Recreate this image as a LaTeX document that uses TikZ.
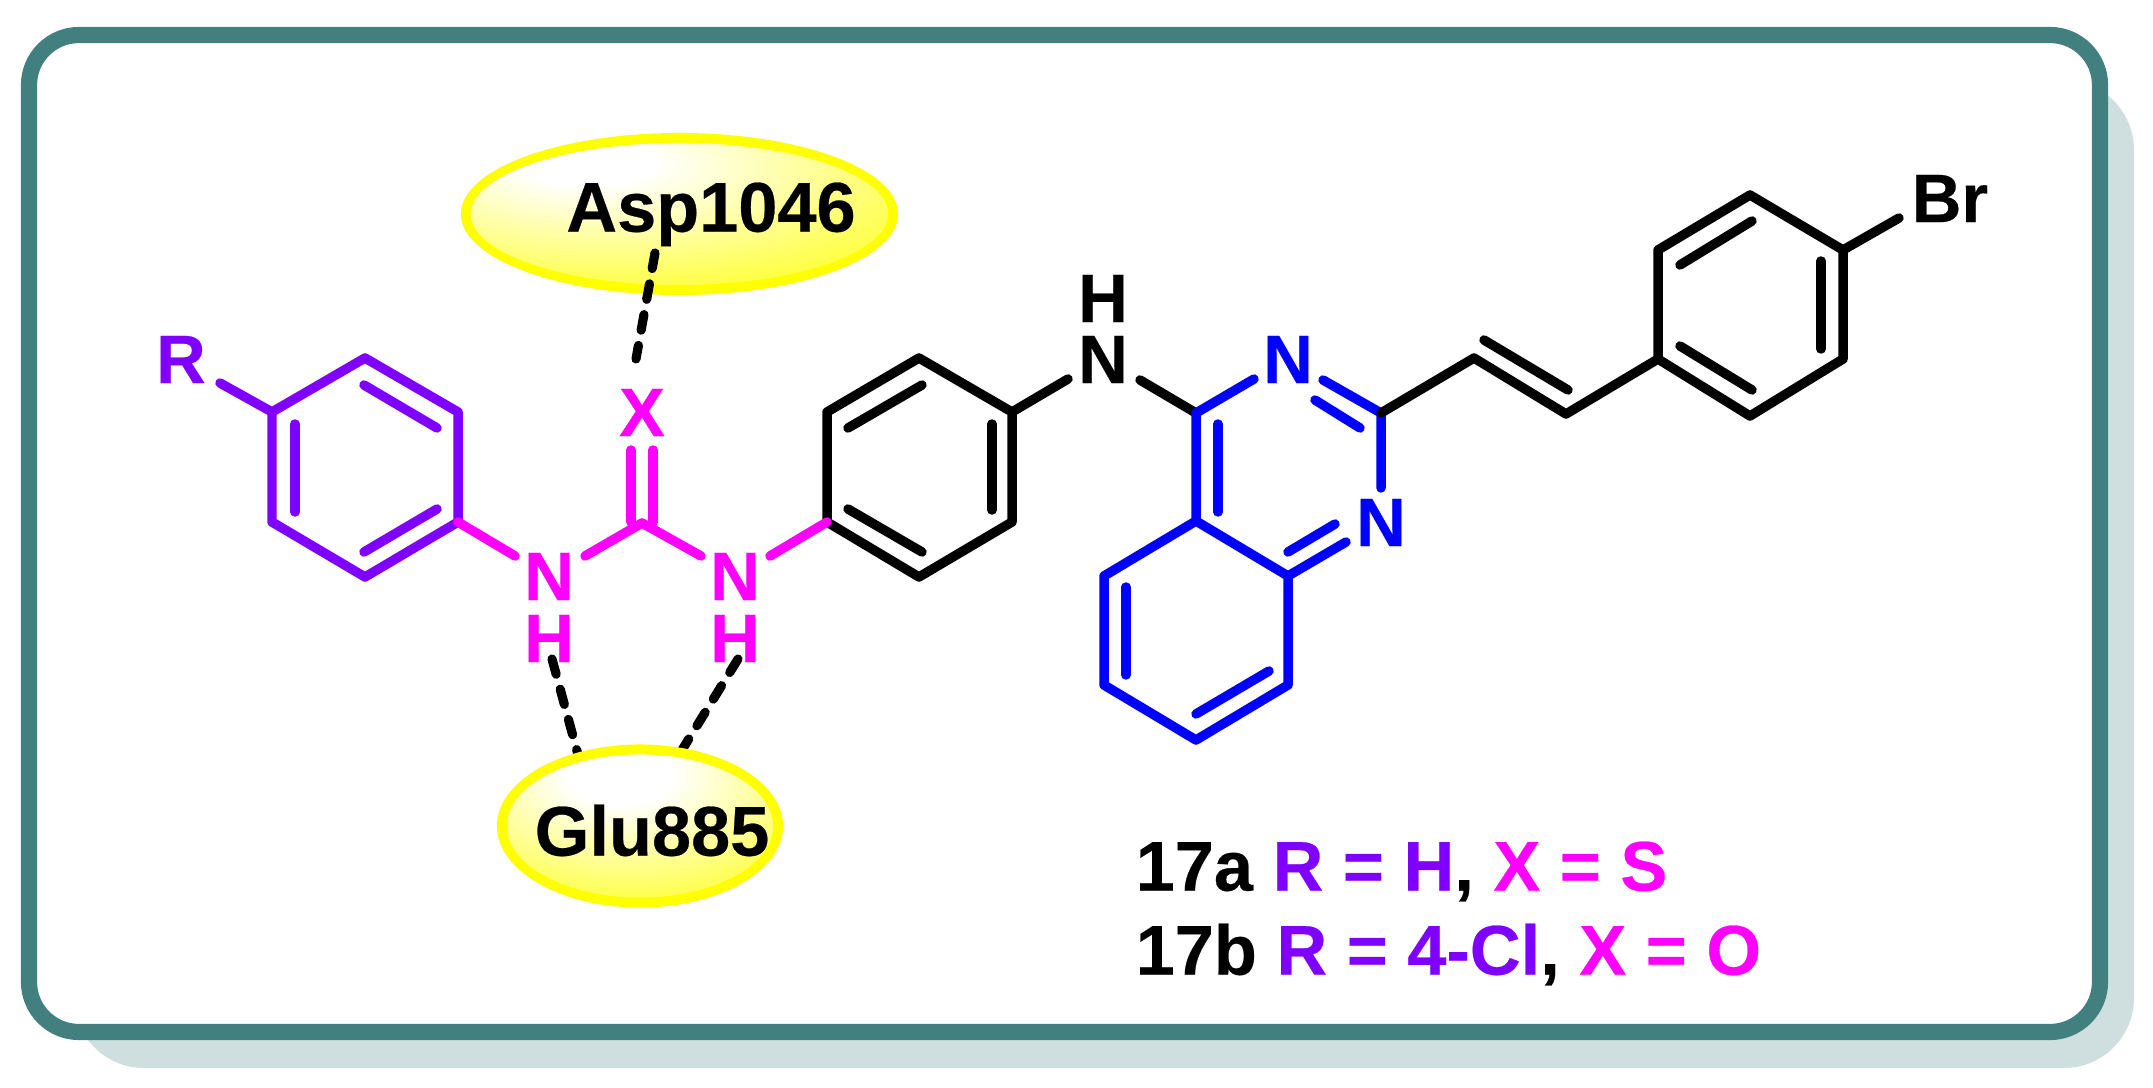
\documentclass[tikz,border=0pt]{standalone}
\usepackage{fontspec}
\setmainfont{Liberation Sans}[BoldFeatures={FakeBold=0.35}]
\usetikzlibrary{shapes.geometric}
\definecolor{frameteal}{HTML}{427F7F}
\definecolor{frameshade}{HTML}{CFDFDF}
\definecolor{violetb}{HTML}{8000FF}
\definecolor{magb}{HTML}{FF00FF}
\definecolor{blueb}{HTML}{0000FF}
\definecolor{yellowb}{HTML}{FFFF00}
\pgfdeclareradialshading{glowa}{\pgfpoint{-12bp}{20bp}}{color(0bp)=(white);color(8bp)=(white);color(50bp)=(yellowb);color(100bp)=(yellowb)}
\pgfdeclareradialshading{glowb}{\pgfpoint{-4bp}{20bp}}{color(0bp)=(white);color(10bp)=(white);color(50bp)=(yellowb);color(100bp)=(yellowb)}
\tikzset{
  bond/.style={line width=2.7pt,line cap=round,line join=round},
  violetbond/.style={bond,draw=violetb},
  magbond/.style={bond,draw=magb},
  bluebond/.style={bond,draw=blueb},
  blackbond/.style={bond,draw=black},
  hbond/.style={line width=2.6pt,line cap=round,draw=black,dash pattern=on 4.5pt off 4.4pt},
  atom/.style={inner sep=0pt,text height=13.7pt,text depth=0pt,font=\bfseries\fontsize{19.5}{20}\selectfont},
  residue/.style={inner sep=0pt,text height=14pt,text depth=0pt,font=\bfseries\fontsize{20}{22}\selectfont},
  pocket/.style={ellipse,inner sep=0pt,draw=none,fill=yellowb},
  pocketglow/.style={ellipse,inner sep=0pt,draw=none},
  legend/.style={inner sep=0pt,anchor=west,text height=14pt,text depth=0pt,font=\bfseries\fontsize{20}{22}\selectfont},
}
\begin{document}
\begin{tikzpicture}[x=0.01cm,y=-0.01cm]
\useasboundingbox (0,0) rectangle (2153,1088);
% frame
\fill[frameshade,rounded corners=0.7cm] (74,80) rectangle (2134,1068);
\draw[frameteal,fill=white,line width=4.6pt,rounded corners=0.5cm] (29,35) rectangle (2100,1032);
% atoms
\foreach \n/\x/\y in {
 la/365/358, lb/458/412, lc/458/522, ld/365/577, le/272/522, lf/272/412,
 ma/919/358, mb/1012/412, mc/1012/522, md/919/577, me/827/522, mf/827/412,
 urea/642/523, ca/1196/413, cb/1381/413, cc/1196/521, cd/1288/576,
 be/1104/576, bf/1104/685, bg/1196/740, bh/1288/685,
 va/1474/358, vb/1566/414,
 ra/1658/359, rb/1658/250, rc/1750/195, rd/1843/250, re/1843/359, rf/1750/416,
 rEnd/220/383, xEndA/631/450, xEndB/653/450, xBaseA/631/522, xBaseB/653/522,
 nAl/515/556, nAr/585/556, nBl/701/556, nBr/770/556,
 hl/1068/379, hr/1140/380, nCl/1254/379, nCr/1323/380, nDt/1381/488, nDb/1346/542,
 brEnd/1899/218,
 i1a/364/385, i1b/437/428, i2a/364/552, i2b/437/509, i3a/295/424, i3b/295/512,
 i4a/848/428, i4b/922/385, i5a/848/509, i5b/922/552, i6a/992/424, i6b/992/510,
 i7a/1315/400, i7b/1360/428, i8a/1218/424, i8b/1218/512, i9a/1288/552, i9b/1335/524,
 i10a/1126/587, i10b/1126/675, i11a/1196/714, i11b/1269/671,
 i12a/1484/340, i12b/1568/390,
 i13a/1680/265, i13b/1752/221, i14a/1821/261, i14b/1821/349, i15a/1680/346, i15b/1752/390,
 dAa/655/253, dAb/636/359, dBa/552/659, dBb/580/762, dCa/738/659, dCb/682/750}
 {\coordinate (\n) at (\x,\y);}
% hydrogen-bond contacts under the lower pocket
\draw[hbond] (dBa) -- (dBb);
\draw[hbond] (dCa) -- (dCb);
% pockets
\node[pocket,minimum width=4.37cm,minimum height=1.62cm] (aspP) at (679.5,214) {};
\node[pocketglow,shading=glowa,minimum width=4.17cm,minimum height=1.42cm] (aspI) at (aspP) {};
\node[pocket,minimum width=2.86cm,minimum height=1.63cm] (gluP) at (640,826) {};
\node[pocketglow,shading=glowb,minimum width=2.66cm,minimum height=1.43cm] (gluI) at (gluP) {};
\node[residue] (aspT) at (711,207) {Asp1046};
\node[residue] (gluT) at (652,831) {Glu885};
\draw[hbond] (dAa) -- (dAb);
% violet ring
\draw[violetbond] (la) -- (lb) -- (lc) -- (ld) -- (le) -- (lf) -- cycle;
\draw[violetbond] (i1a) -- (i1b);
\draw[violetbond] (i2a) -- (i2b);
\draw[violetbond] (i3a) -- (i3b);
\draw[violetbond] (rEnd) -- (lf);
% urea
\draw[magbond] (lc) -- (nAl);
\draw[magbond] (nAr) -- (urea) -- (nBl);
\draw[magbond] (xEndA) -- (xBaseA);
\draw[magbond] (xEndB) -- (xBaseB);
% middle ring
\draw[blackbond] (ma) -- (mb) -- (mc) -- (md) -- (me) -- (mf) -- cycle;
\draw[blackbond] (i4a) -- (i4b);
\draw[blackbond] (i5a) -- (i5b);
\draw[blackbond] (i6a) -- (i6b);
\draw[magbond] (nBr) -- (me);
\draw[blackbond] (mb) -- (hl);
\draw[blackbond] (hr) -- (ca);
% quinazoline
\draw[bluebond] (nCl) -- (ca) -- (cc) -- (be) -- (bf) -- (bg) -- (bh) -- (cd) -- (cc);
\draw[bluebond] (nCr) -- (cb) -- (nDt);
\draw[bluebond] (cd) -- (nDb);
\draw[bluebond] (i7a) -- (i7b);
\draw[bluebond] (i8a) -- (i8b);
\draw[bluebond] (i9a) -- (i9b);
\draw[bluebond] (i10a) -- (i10b);
\draw[bluebond] (i11a) -- (i11b);
% styryl
\draw[blackbond] (cb) -- (va) -- (vb) -- (ra);
\draw[blackbond] (i12a) -- (i12b);
\draw[blackbond] (ra) -- (rb) -- (rc) -- (rd) -- (re) -- (rf) -- cycle;
\draw[blackbond] (i13a) -- (i13b);
\draw[blackbond] (i14a) -- (i14b);
\draw[blackbond] (i15a) -- (i15b);
\draw[blackbond] (rd) -- (brEnd);
% atom labels
\node[atom,violetb] (Rlab) at (181,359) {R};
\node[atom,magb] (X) at (642,412) {X};
\node[atom,magb] (N1) at (549,576) {N};
\node[atom,magb] (H1) at (549,638) {H};
\node[atom,magb] (N2) at (735,576) {N};
\node[atom,magb] (H2) at (735,638) {H};
\node[atom] (N3) at (1103,359) {N};
\node[atom] (H3) at (1103,298) {H};
\node[atom,blueb] (N4) at (1288,359) {N};
\node[atom,blueb] (N5) at (1381,522) {N};
\node[atom] (Br) at (1950,198) {Br};
% legend
\node[legend] (L1) at (1135,866) {17a \textcolor{violetb}{R = H}, \textcolor{magb}{X = S}};
\node[legend] (L2) at (1135,950) {17b \textcolor{violetb}{R = 4-Cl}, \textcolor{magb}{X = O}};
\end{tikzpicture}
\end{document}
